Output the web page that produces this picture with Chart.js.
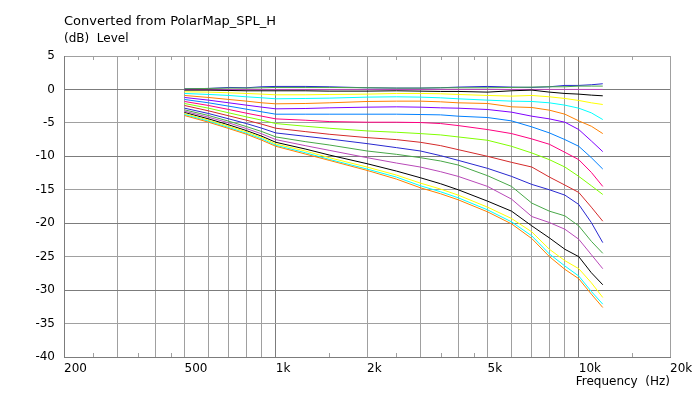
<!DOCTYPE html>
<html lang="en">
<head>
<meta charset="UTF-8">
<title>Converted from PolarMap_SPL_H</title>
<script src="https://cdn.jsdelivr.net/npm/chart.js"></script>
<style>
  html, body { margin: 0; padding: 0; background: #fff; }
</style>
</head>
<body>
<canvas id="spl" width="692" height="393"></canvas>
<script>
const freqs = [500, 600, 700, 800, 900, 1000, 1250, 1500, 2000, 2500, 3000, 3500, 4000, 5000, 6000, 7000, 8000, 9000, 10000, 11000, 12000];

// level (dB), one array per curve, top to bottom at 12k
const curve01 = [0.1, 0.15, 0.3, 0.25, 0.4, 0.45, 0.45, 0.4, 0.25, 0.2, 0.2, 0.25, 0.35, 0.45, 0.35, 0.3, 0.4, 0.6, 0.6, 0.7, 0.85];
const curve02 = [0.1, 0.15, 0.2, 0.2, 0.25, 0.3, 0.3, 0.3, 0.25, 0.2, 0.2, 0.25, 0.25, 0.25, 0.3, 0.35, 0.4, 0.4, 0.5, 0.5, 0.5];
const curve03 = [0, 0, 0, 0, 0, 0, 0, 0, 0, 0, 0, 0, 0, 0, 0, 0, 0, 0, 0, 0, 0];
const curve04 = [-0.1, -0.1, -0.15, -0.2, -0.2, -0.2, -0.2, -0.25, -0.25, -0.2, -0.25, -0.3, -0.3, -0.4, -0.2, -0.1, -0.4, -0.6, -0.7, -0.85, -0.95];
const curve05 = [-0.35, -0.4, -0.5, -0.6, -0.7, -0.8, -0.8, -0.75, -0.7, -0.6, -0.6, -0.65, -0.75, -0.9, -1.0, -0.9, -1.1, -1.35, -1.65, -2.0, -2.25];
const curve06 = [-0.6, -0.75, -0.9, -1.1, -1.25, -1.4, -1.35, -1.3, -1.15, -1.1, -1.15, -1.25, -1.4, -1.6, -1.75, -1.8, -2.0, -2.35, -2.8, -3.5, -4.5];
const curve07 = [-0.9, -1.2, -1.5, -1.75, -2.0, -2.15, -2.1, -2.0, -1.8, -1.75, -1.75, -1.85, -2.0, -2.1, -2.6, -2.7, -3.1, -3.7, -4.7, -5.5, -6.6];
const curve08 = [-1.2, -1.6, -2.0, -2.35, -2.65, -2.9, -2.85, -2.75, -2.65, -2.6, -2.65, -2.75, -2.8, -3.0, -3.4, -4.0, -4.4, -4.9, -6.0, -7.7, -9.3];
const curve09 = [-1.5, -2.0, -2.5, -2.95, -3.35, -3.7, -3.7, -3.7, -3.7, -3.7, -3.75, -3.8, -4.0, -4.2, -4.7, -5.6, -6.5, -7.5, -8.5, -10.2, -11.9];
const curve10 = [-1.8, -2.4, -3.0, -3.55, -4.0, -4.4, -4.6, -4.8, -4.9, -4.9, -4.95, -5.1, -5.4, -6.0, -6.6, -7.4, -8.2, -9.4, -10.5, -12.4, -14.5];
const curve11 = [-2.1, -2.8, -3.5, -4.1, -4.6, -5.1, -5.5, -5.8, -6.2, -6.4, -6.6, -6.8, -7.1, -7.6, -8.5, -9.5, -10.5, -11.6, -13.0, -14.4, -15.7];
const curve12 = [-2.4, -3.2, -3.95, -4.6, -5.2, -5.8, -6.3, -6.7, -7.2, -7.5, -7.9, -8.4, -9.0, -10.0, -10.9, -11.6, -13.1, -14.3, -15.4, -17.6, -19.7];
const curve13 = [-2.8, -3.6, -4.4, -5.1, -5.8, -6.5, -7.0, -7.4, -8.1, -8.7, -9.2, -9.9, -10.6, -11.8, -13.0, -14.2, -15.0, -15.8, -17.2, -19.9, -22.9];
const curve14 = [-3.05, -3.9, -4.75, -5.55, -6.3, -7.1, -7.8, -8.3, -9.2, -9.7, -10.2, -10.7, -11.3, -12.9, -14.5, -17.0, -18.2, -18.9, -20.4, -22.7, -24.5];
const curve15 = [-3.25, -4.15, -5.0, -5.85, -6.65, -7.5, -8.4, -9.1, -10.2, -11.0, -11.6, -12.3, -13.0, -14.5, -16.4, -19.0, -19.9, -20.9, -22.4, -24.7, -26.8];
const curve16 = [-3.45, -4.4, -5.3, -6.15, -7.0, -7.9, -8.9, -9.8, -11.1, -12.2, -13.2, -14.1, -15.0, -16.7, -18.2, -20.4, -22.2, -23.9, -25.0, -27.4, -29.2];
const curve17 = [-3.6, -4.6, -5.5, -6.35, -7.2, -8.15, -9.2, -10.2, -11.6, -12.8, -14.0, -14.9, -15.8, -17.6, -19.3, -21.3, -23.9, -25.6, -26.8, -28.9, -31.1];
const curve18 = [-3.75, -4.75, -5.7, -6.55, -7.4, -8.35, -9.45, -10.45, -11.9, -13.1, -14.4, -15.3, -16.2, -18.0, -19.8, -21.9, -24.6, -26.4, -27.9, -30.2, -32.1];
const curve19 = [-3.9, -4.9, -5.85, -6.7, -7.6, -8.5, -9.65, -10.6, -12.1, -13.4, -14.7, -15.6, -16.5, -18.3, -20.1, -22.3, -25.0, -26.9, -28.3, -30.6, -32.6];

const curves = [curve01, curve02, curve03, curve04, curve05, curve06, curve07, curve08, curve09, curve10,
                curve11, curve12, curve13, curve14, curve15, curve16, curve17, curve18, curve19];

// colour cycle of the original plot
const palette = ['#2828d0', '#48a848', '#b848b8', '#000000', '#ffff00', '#00ffff',
                 '#ff8000', '#8000ff', '#0080ff', '#ff0080', '#80ff00', '#d42a2a'];

// axes
const gridFreqs = [200, 300, 400, 500, 600, 700, 800, 900, 1000, 2000, 3000, 4000, 5000, 6000, 7000, 8000, 9000, 10000, 20000];
const minorFreqs = [250, 350, 450, 1500, 2500, 3500, 4500, 15000];
const freqLabels = { 200: '200', 500: '500', 1000: '1k', 2000: '2k', 5000: '5k', 10000: '10k', 20000: '20k' };
const chartTitle = 'Converted from PolarMap_SPL_H';
const yTitle = '(dB)  Level';
const xTitle = 'Frequency  (Hz)';

const FONT = '"DejaVu Sans", Verdana, sans-serif';
const GRID_LIGHT = '#a0a0a0';
const GRID_DARK = '#7c7c7c';

const datasets = curves.map((vals, i) => ({
  data: vals.map((v, k) => ({ x: freqs[k], y: v })),
  borderColor: palette[i % palette.length],
  borderWidth: 1,
  pointRadius: 0,
  tension: 0,
  fill: false,
  order: curves.length - i   // later curves drawn on top
}));

// captions + small minor ticks (like the original software)
const extras = {
  id: 'extras',
  beforeDatasetsDraw(chart) {
    const { ctx, chartArea: a } = chart;
    const xs = chart.scales.x;
    ctx.save();
    ctx.strokeStyle = GRID_LIGHT;
    ctx.lineWidth = 1;
    ctx.beginPath();
    minorFreqs.forEach(f => {
      const px = Math.round(xs.getPixelForValue(f)) + 0.5;
      ctx.moveTo(px, a.bottom);
      ctx.lineTo(px, a.bottom - 4);
      ctx.moveTo(px, a.top);
      ctx.lineTo(px, a.top + 4);
    });
    ctx.stroke();
    ctx.restore();
  },
  afterDraw(chart) {
    const { ctx, chartArea: a } = chart;
    ctx.save();
    ctx.fillStyle = '#000';
    ctx.textBaseline = 'middle';
    ctx.textAlign = 'left';
    ctx.font = '13px ' + FONT;
    ctx.fillText(chartTitle, a.left, 22);
    ctx.font = '12px ' + FONT;
    ctx.fillText(yTitle, a.left, 39);
    ctx.textAlign = 'right';
    ctx.fillText(xTitle, a.right, 382);
    ctx.restore();
  }
};

new Chart(document.getElementById('spl'), {
  type: 'line',
  data: { datasets },
  plugins: [extras],
  options: {
    responsive: false,
    animation: false,
    parsing: true,
    layout: { padding: { left: 0, top: 56, right: 22, bottom: 0 } },
    plugins: { legend: { display: false }, tooltip: { enabled: false }, title: { display: false } },
    scales: {
      x: {
        type: 'logarithmic',
        min: 200,
        max: 20000,
        afterBuildTicks: s => { s.ticks = gridFreqs.map(v => ({ value: v })); },
        afterFit: s => { s.height = 36; s.paddingLeft = 0; s.paddingRight = 0; },
        grid: {
          drawTicks: false,
          color: c => (c.tick && (c.tick.value === 1000 || c.tick.value === 10000)) ? GRID_DARK : GRID_LIGHT
        },
        border: { color: GRID_DARK },
        ticks: {
          autoSkip: false,
          maxRotation: 0,
          align: 'start',
          padding: 5,
          color: '#000',
          font: { family: FONT, size: 12 },
          callback: v => freqLabels[v] || ''
        }
      },
      y: {
        min: -40,
        max: 5,
        afterFit: s => { s.width = 64; s.paddingTop = 0; s.paddingBottom = 0; },
        grid: {
          drawTicks: false,
          color: c => (c.tick && c.tick.value % 10 === 0) ? GRID_DARK : GRID_LIGHT
        },
        border: { color: GRID_DARK },
        ticks: {
          stepSize: 5,
          padding: 9,
          color: '#000',
          font: { family: FONT, size: 12 }
        }
      }
    }
  }
});
</script>
</body>
</html>
